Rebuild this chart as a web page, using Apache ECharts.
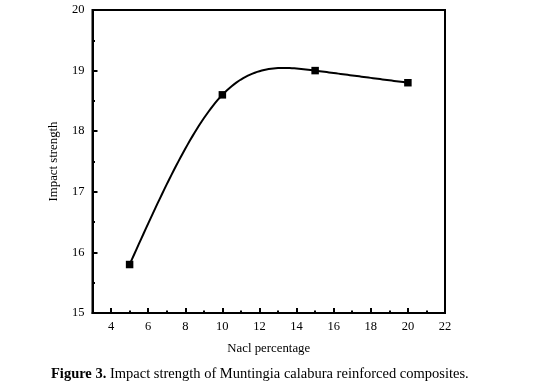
<!DOCTYPE html>
<html>
<head>
<meta charset="utf-8">
<script src="https://cdn.jsdelivr.net/npm/echarts@6/dist/echarts.min.js"></script>
<style>html,body{margin:0;padding:0;background:#fff;}#c{width:540px;height:390px;}</style>
</head>
<body>
<div id="c"></div>
<script>
const nacl = [5, 10, 15, 20];
const impact = [15.8, 18.6, 19.0, 18.8];
const xMajorTicks = [4, 6, 8, 10, 12, 14, 16, 18, 20, 22];
const xMinorTicks = [5, 7, 9, 11, 13, 15, 17, 19, 21];
const yTicks = [15, 16, 17, 18, 19, 20];

// Natural cubic spline second derivatives (how the curve is drawn between points)
function splineM(xs, ys) {
  const n = xs.length;
  const M = new Array(n).fill(0);
  if (n < 3) return M;
  const a = [], b = [], c = [], d = [];
  for (let i = 1; i < n - 1; i++) {
    const h0 = xs[i] - xs[i - 1], h1 = xs[i + 1] - xs[i];
    a.push(h0); b.push(2 * (h0 + h1)); c.push(h1);
    d.push(6 * ((ys[i + 1] - ys[i]) / h1 - (ys[i] - ys[i - 1]) / h0));
  }
  const m = b.length;
  for (let i = 1; i < m; i++) {
    const w = a[i] / b[i - 1];
    b[i] -= w * c[i - 1];
    d[i] -= w * d[i - 1];
  }
  const sol = new Array(m);
  sol[m - 1] = d[m - 1] / b[m - 1];
  for (let i = m - 2; i >= 0; i--) sol[i] = (d[i] - c[i] * sol[i + 1]) / b[i];
  for (let i = 0; i < m; i++) M[i + 1] = sol[i];
  return M;
}
const M = splineM(nacl, impact);
function splineAt(i, x) {
  const x0 = nacl[i], x1 = nacl[i + 1], y0 = impact[i], y1 = impact[i + 1];
  const h = x1 - x0;
  return M[i] * Math.pow(x1 - x, 3) / (6 * h) + M[i + 1] * Math.pow(x - x0, 3) / (6 * h)
    + (y0 / h - M[i] * h / 6) * (x1 - x) + (y1 / h - M[i + 1] * h / 6) * (x - x0);
}

const font = 'Liberation Serif';
const chart = echarts.init(document.getElementById('c'));
chart.setOption({
  animation: false,
  backgroundColor: '#fff',
  title: {
    text: '{b|Figure 3.} Impact strength of Muntingia calabura reinforced composites.',
    left: 46,
    top: 362,
    textStyle: {
      fontFamily: font, fontSize: 14.5, color: '#000', fontWeight: 'normal',
      rich: { b: { fontFamily: font, fontSize: 14.5, fontWeight: 'bold', color: '#000' } }
    }
  },
  grid: { left: 92.5, right: 95, top: 10, bottom: 77, show: true, borderColor: '#000', borderWidth: 2 },
  xAxis: [{
    type: 'value', min: 3, max: 22,
    name: 'Nacl percentage', nameLocation: 'middle', nameGap: 29,
    nameTextStyle: { fontFamily: font, fontSize: 12.8, color: '#000' },
    axisLine: { show: true, lineStyle: { color: '#000', width: 2 } },
    axisTick: { show: true, inside: true, length: 5, customValues: xMajorTicks, lineStyle: { color: '#000', width: 2 } },
    axisLabel: { customValues: xMajorTicks, fontFamily: font, fontSize: 12.5, color: '#000', margin: 7 },
    splitLine: { show: false }
  }, {
    type: 'value', min: 3, max: 22, position: 'bottom',
    axisLine: { show: false },
    axisTick: { show: true, inside: true, length: 2.5, customValues: xMinorTicks, lineStyle: { color: '#000', width: 2 } },
    axisLabel: { show: false },
    splitLine: { show: false }
  }],
  yAxis: {
    type: 'value', min: 15, max: 20, interval: 1,
    name: 'Impact strength', nameLocation: 'middle', nameGap: 32,
    nameTextStyle: { fontFamily: font, fontSize: 12.8, color: '#000' },
    axisLine: { show: true, lineStyle: { color: '#000', width: 2 } },
    axisTick: { show: true, inside: true, length: 5, customValues: yTicks, lineStyle: { color: '#000', width: 2 } },
    minorTick: { show: true, splitNumber: 2, length: 2.5, lineStyle: { color: '#000', width: 2 } },
    axisLabel: { customValues: yTicks, fontFamily: font, fontSize: 12.5, color: '#000', margin: 8 },
    splitLine: { show: false }
  },
  series: [{
    type: 'custom',
    xAxisIndex: 0,
    data: nacl.map((x, i) => [x, impact[i]]),
    encode: { x: 0, y: 1 },
    renderItem: function (params, api) {
      const i = params.dataIndex;
      if (i >= nacl.length - 1) return null;
      const pts = [];
      const steps = 40;
      for (let k = 0; k <= steps; k++) {
        const x = nacl[i] + (nacl[i + 1] - nacl[i]) * k / steps;
        pts.push(api.coord([x, splineAt(i, x)]));
      }
      return {
        type: 'polyline',
        shape: { points: pts },
        style: { stroke: '#000', lineWidth: 2, fill: null }
      };
    },
    z: 2
  }, {
    type: 'scatter',
    xAxisIndex: 0,
    data: nacl.map((x, i) => [x, impact[i]]),
    symbol: 'rect', symbolSize: 7.5,
    itemStyle: { color: '#000', opacity: 1 },
    z: 3
  }]
});
</script>
</body>
</html>
